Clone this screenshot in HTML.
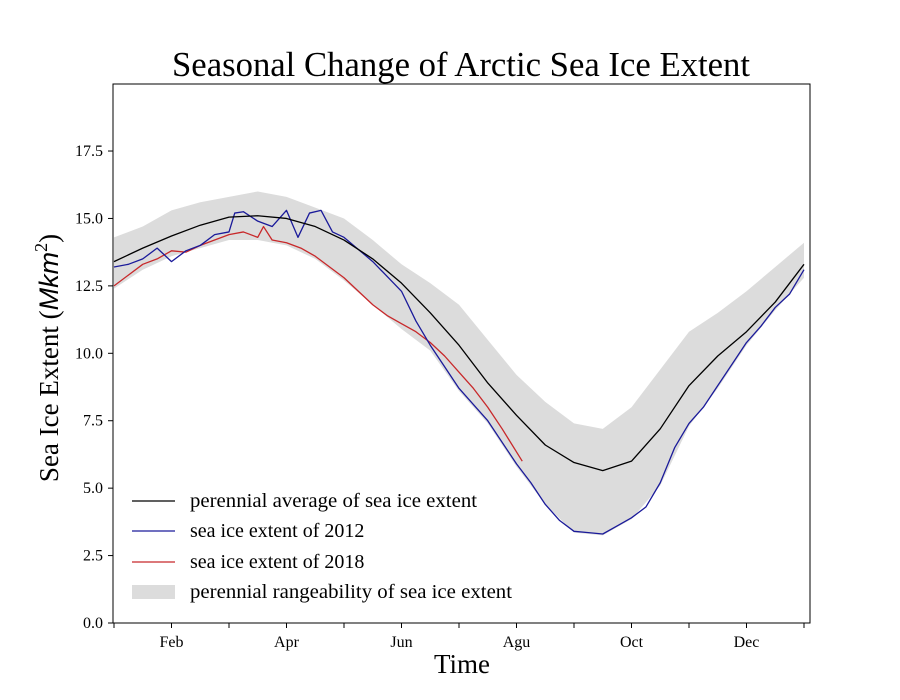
<!DOCTYPE html>
<html><head><meta charset="utf-8"><style>
body{margin:0;background:#fff}
svg{display:block;font-family:"Liberation Serif",serif}
</style></head><body>
<svg id="chart" width="900" height="700">
<text x="461" y="76" font-size="35" text-anchor="middle" textLength="578" lengthAdjust="spacingAndGlyphs">Seasonal Change of Arctic Sea Ice Extent</text>
<g id="plot"></g>
<rect x="113" y="84" width="697" height="539" fill="none" stroke="#000" stroke-width="1"/>
<text x="462" y="673" font-size="27" text-anchor="middle">Time</text>
<text transform="translate(58,358) rotate(-90)" font-size="27" text-anchor="middle">Sea Ice Extent (<tspan font-style="italic" font-family="Liberation Sans, sans-serif">Mkm</tspan><tspan font-size="18" dy="-11">2</tspan><tspan dy="11">)</tspan></text>
<g font-size="20">
<line x1="132" y1="501" x2="175" y2="501" stroke="#000" stroke-width="1.3"/>
<text x="190" y="507" textLength="287" lengthAdjust="spacingAndGlyphs">perennial average of sea ice extent</text>
<line x1="132" y1="531" x2="175" y2="531" stroke="#1a1a9a" stroke-width="1.3"/>
<text x="190" y="537">sea ice extent of 2012</text>
<line x1="132" y1="562" x2="175" y2="562" stroke="#c8282a" stroke-width="1.3"/>
<text x="190" y="568">sea ice extent of 2018</text>
<rect x="132" y="585" width="43" height="14" fill="#dcdcdc"/>
<text x="190" y="598" textLength="322" lengthAdjust="spacingAndGlyphs">perennial rangeability of sea ice extent</text>
</g>
</svg>
<script>
const monthLabels=["Feb","Apr","Jun","Agu","Oct","Dec"];
const yTicks=[0,2.5,5,7.5,10,12.5,15,17.5];
const halfMonths=[0,0.5,1,1.5,2,2.5,3,3.5,4,4.5,5,5.5,6,6.5,7,7.5,8,8.5,9,9.5,10,10.5,11,11.5,12];
const avgVals=[13.4,13.9,14.35,14.75,15.05,15.1,15.0,14.7,14.2,13.5,12.6,11.5,10.3,8.9,7.7,6.6,5.95,5.65,6.0,7.2,8.8,9.9,10.8,11.9,13.3];
const upperVals=[14.3,14.7,15.3,15.6,15.8,16.0,15.8,15.4,15.0,14.2,13.3,12.6,11.8,10.5,9.2,8.2,7.4,7.2,8.0,9.4,10.8,11.5,12.3,13.2,14.1];
const lowerVals=[12.4,13.1,13.6,13.9,14.2,14.2,14.0,13.5,12.7,11.8,10.9,10.1,8.6,7.4,5.8,4.4,3.35,3.25,3.85,5.1,7.3,8.7,10.3,11.6,12.8];
const t2012=[0,0.25,0.5,0.75,1,1.25,1.5,1.75,2,2.1,2.25,2.5,2.75,3,3.2,3.4,3.6,3.8,4,4.5,5,5.25,5.5,5.75,6,6.5,7,7.25,7.5,7.75,8,8.25,8.5,8.75,9,9.25,9.5,9.75,10,10.25,10.5,10.75,11,11.25,11.5,11.75,12];
const v2012=[13.2,13.3,13.5,13.9,13.4,13.8,14.0,14.4,14.5,15.2,15.25,14.9,14.7,15.3,14.3,15.2,15.3,14.5,14.3,13.4,12.3,11.2,10.3,9.5,8.7,7.5,5.9,5.2,4.4,3.8,3.4,3.35,3.3,3.6,3.9,4.3,5.2,6.5,7.4,8.0,8.8,9.6,10.4,11.0,11.7,12.2,13.1];
const t2018=[0,0.25,0.5,0.75,1,1.25,1.5,1.75,2,2.25,2.5,2.6,2.75,3,3.25,3.5,3.75,4,4.25,4.5,4.75,5,5.25,5.5,5.75,6,6.25,6.5,6.75,7.1];
const v2018=[12.5,12.9,13.3,13.5,13.8,13.75,14.0,14.2,14.4,14.5,14.3,14.7,14.2,14.1,13.9,13.6,13.2,12.8,12.3,11.8,11.4,11.1,10.8,10.4,9.9,9.3,8.7,8.0,7.2,6.0];
const NS="http://www.w3.org/2000/svg";
const X=m=>114+57.5*m;
const Y=v=>623-v*26.97;
const plot=document.getElementById('plot');
function mk(tag,attrs){const e=document.createElementNS(NS,tag);for(const k in attrs)e.setAttribute(k,attrs[k]);plot.appendChild(e);return e;}
let d="M"+halfMonths.map((m,i)=>X(m)+","+Y(upperVals[i])).join("L");
d+="L"+halfMonths.slice().reverse().map((m,i)=>X(m)+","+Y(lowerVals[lowerVals.length-1-i])).join("L")+"Z";
const band=mk('path',{d:d,fill:"#dcdcdc"});


function line(ts,vs,col,w){return mk('path',{d:"M"+ts.map((t,i)=>X(t)+","+Y(vs[i])).join("L"),fill:"none",stroke:col,"stroke-width":w,"stroke-linejoin":"round"});}
const l18=line(t2018,v2018,"#c8282a",1.3);


const l12=line(t2012,v2012,"#1a1a9a",1.3);


const la=line(halfMonths,avgVals,"#000",1.3);


yTicks.forEach(v=>{
 const t=mk('line',{x1:108,x2:113,y1:Y(v),y2:Y(v),stroke:"#000"});
 
 
 const tx=mk('text',{x:103,y:Y(v)+5,"font-size":16,"text-anchor":"end"});
 tx.textContent=v.toFixed(1);
 
 
});
for(let m=0;m<=12;m++){
 const t=mk('line',{x1:X(m),x2:X(m),y1:623,y2:628,stroke:"#000"});
 
 
}
monthLabels.forEach((lab,i)=>{
 const tx=mk('text',{x:X(1+2*i),y:647,"font-size":16,"text-anchor":"middle"});
 tx.textContent=lab;
 
 
});
</script>
</body></html>
